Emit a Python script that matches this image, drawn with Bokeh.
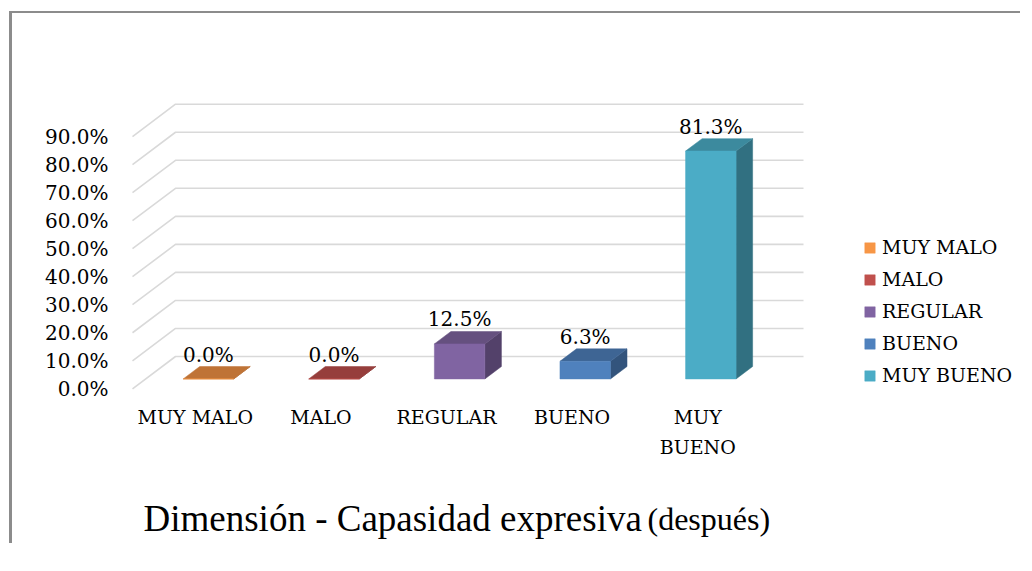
from bokeh.plotting import figure
from bokeh.layouts import column
from bokeh.models import (Range1d, FixedTicker, NumeralTickFormatter, LinearAxis,
                          Legend, LegendItem, Label)
from bokeh.core.properties import value
from bokeh.embed import file_html
from bokeh.resources import INLINE

# ---------------- data ----------------
categories = ["MUY MALO", "MALO", "REGULAR", "BUENO", "MUY BUENO"]
axis_labels = ["MUY MALO", "MALO", "REGULAR", "BUENO", "MUY\nBUENO"]
values = [0.0, 0.0, 0.125, 0.063, 0.813]
y_ticks = [0.0, 0.1, 0.2, 0.3, 0.4, 0.5, 0.6, 0.7, 0.8, 0.9]
title_main = "Dimensión - Capasidad expresiva"
title_sub = "(después)"

# ---------------- style ----------------
front_colors = ["#F79646", "#C0504D", "#8064A2", "#4F81BD", "#4BACC6"]
top_colors = ["#BF7336", "#963E3C", "#65507F", "#3E6594", "#3C8A9E"]
side_colors = ["#A5612D", "#7D3432", "#53416A", "#33547C", "#317081"]
FONT = "DejaVu Serif"

# pixel layout helpers (page coordinates of the reference)
X0_PX, X_UNIT = 132.0, 125.6      # front-plane floor start, px per category
Y0_PX, Y_UNIT = 388.3, 280.3      # front-plane 0 %, px per 100 %
def dx_(px):
    return (px - X0_PX) / X_UNIT
def dy_(py):
    return (Y0_PX - py) / Y_UNIT

# pseudo-3D geometry (data units)
DX, DY = 43 / X_UNIT, 32.3 / Y_UNIT   # full depth offset
D1, D2 = 0.305, 0.69                  # bar front / back depth fraction
BAR_W = 50.5 / X_UNIT
N = len(categories)

W, H = 1008, 530
p = figure(width=W, height=H,
           x_range=Range1d(dx_(128), dx_(1020)), y_range=Range1d(dy_(543), dy_(20)),
           output_backend="svg", toolbar_location=None,
           x_axis_type=None, y_axis_type=None,
           min_border_left=116, min_border_right=0, min_border_top=7,
           min_border_bottom=0)
p.outline_line_color = None
p.background_fill_color = "white"
p.border_fill_color = "white"

# y axis
yaxis = LinearAxis(ticker=FixedTicker(ticks=y_ticks),
                   formatter=NumeralTickFormatter(format="0.0%"))
yaxis.axis_line_color = None
yaxis.major_tick_line_color = None
yaxis.minor_tick_line_color = None
yaxis.major_label_text_font = FONT
yaxis.major_label_text_font_size = "20px"
yaxis.major_label_text_color = "black"
yaxis.major_label_standoff = 14
p.add_layout(yaxis, "left")

# perspective gridlines (left wall diagonal + back wall)
grid_xs = [[0, DX, N + DX] for v in y_ticks]
grid_ys = [[v, v + DY, v + DY] for v in y_ticks]
p.multi_line(grid_xs, grid_ys, line_color="#D9D9D9", line_width=1.6)

# bars
cx = [i + 0.5 + D1 * DX for i in range(N)]
xl = [c - BAR_W / 2 for c in cx]
xr = [c + BAR_W / 2 for c in cx]
b = D1 * DY
ddx = (D2 - D1) * DX
ddy = (D2 - D1) * DY

side_xs = [[r, r + ddx, r + ddx, r] for r in xr]
side_ys = [[b, b + ddy, b + v + ddy, b + v] for v in values]
top_xs = [[l, r, r + ddx, l + ddx] for l, r in zip(xl, xr)]
top_ys = [[b + v, b + v, b + v + ddy, b + v + ddy] for v in values]
front_xs = [[l, r, r, l] for l, r in zip(xl, xr)]
front_ys = [[b, b, b + v, b + v] for v in values]

p.patches(side_xs, side_ys, fill_color=side_colors, line_color=side_colors, line_width=0.5)
p.patches(top_xs, top_ys, fill_color=top_colors, line_color=top_colors, line_width=0.5)
front_r = p.patches(front_xs, front_ys, fill_color=front_colors, line_color=front_colors,
                    line_width=0.5)

# data labels
p.text(x=cx, y=[b + v + ddy for v in values],
       text=[f"{v * 100:.1f}%" for v in values],
       text_align="center", text_baseline="alphabetic", y_offset=-12,
       text_font=value(FONT), text_font_size="20px", text_color="black")

# category labels (front plane)
p.text(x=[i + 0.5 for i in range(N)], y=[dy_(405)] * N, text=axis_labels,
       text_align="center", text_baseline="top", text_line_height=1.4,
       text_font=value(FONT), text_font_size="19px", text_color="black")

# legend
legend = Legend(items=[LegendItem(label=categories[i], renderers=[front_r], index=i)
                       for i in range(N)],
                location=(735, 157))
legend.glyph_width = 13
legend.glyph_height = 13
legend.label_standoff = 6
legend.spacing = 10
legend.padding = 0
legend.margin = 0
legend.border_line_color = None
legend.background_fill_alpha = 0
legend.label_text_font = FONT
legend.label_text_font_size = "19px"
legend.label_text_color = "black"
p.add_layout(legend)

# title
p.add_layout(Label(x=dx_(143), y=dy_(518), text=title_main,
                   text_font="Liberation Serif", text_font_size="37px",
                   text_baseline="alphabetic", text_color="black"))
p.add_layout(Label(x=dx_(647), y=dy_(518), text=title_sub,
                   text_font="Liberation Serif", text_font_size="32px",
                   text_baseline="alphabetic", text_color="black"))

layout = column(p, styles={"border-left": "3px solid #8c8c8c",
                           "border-top": "2px solid #8c8c8c",
                           "margin-left": "9px", "margin-top": "11px"})

open("out.html", "w").write(file_html(layout, INLINE))
